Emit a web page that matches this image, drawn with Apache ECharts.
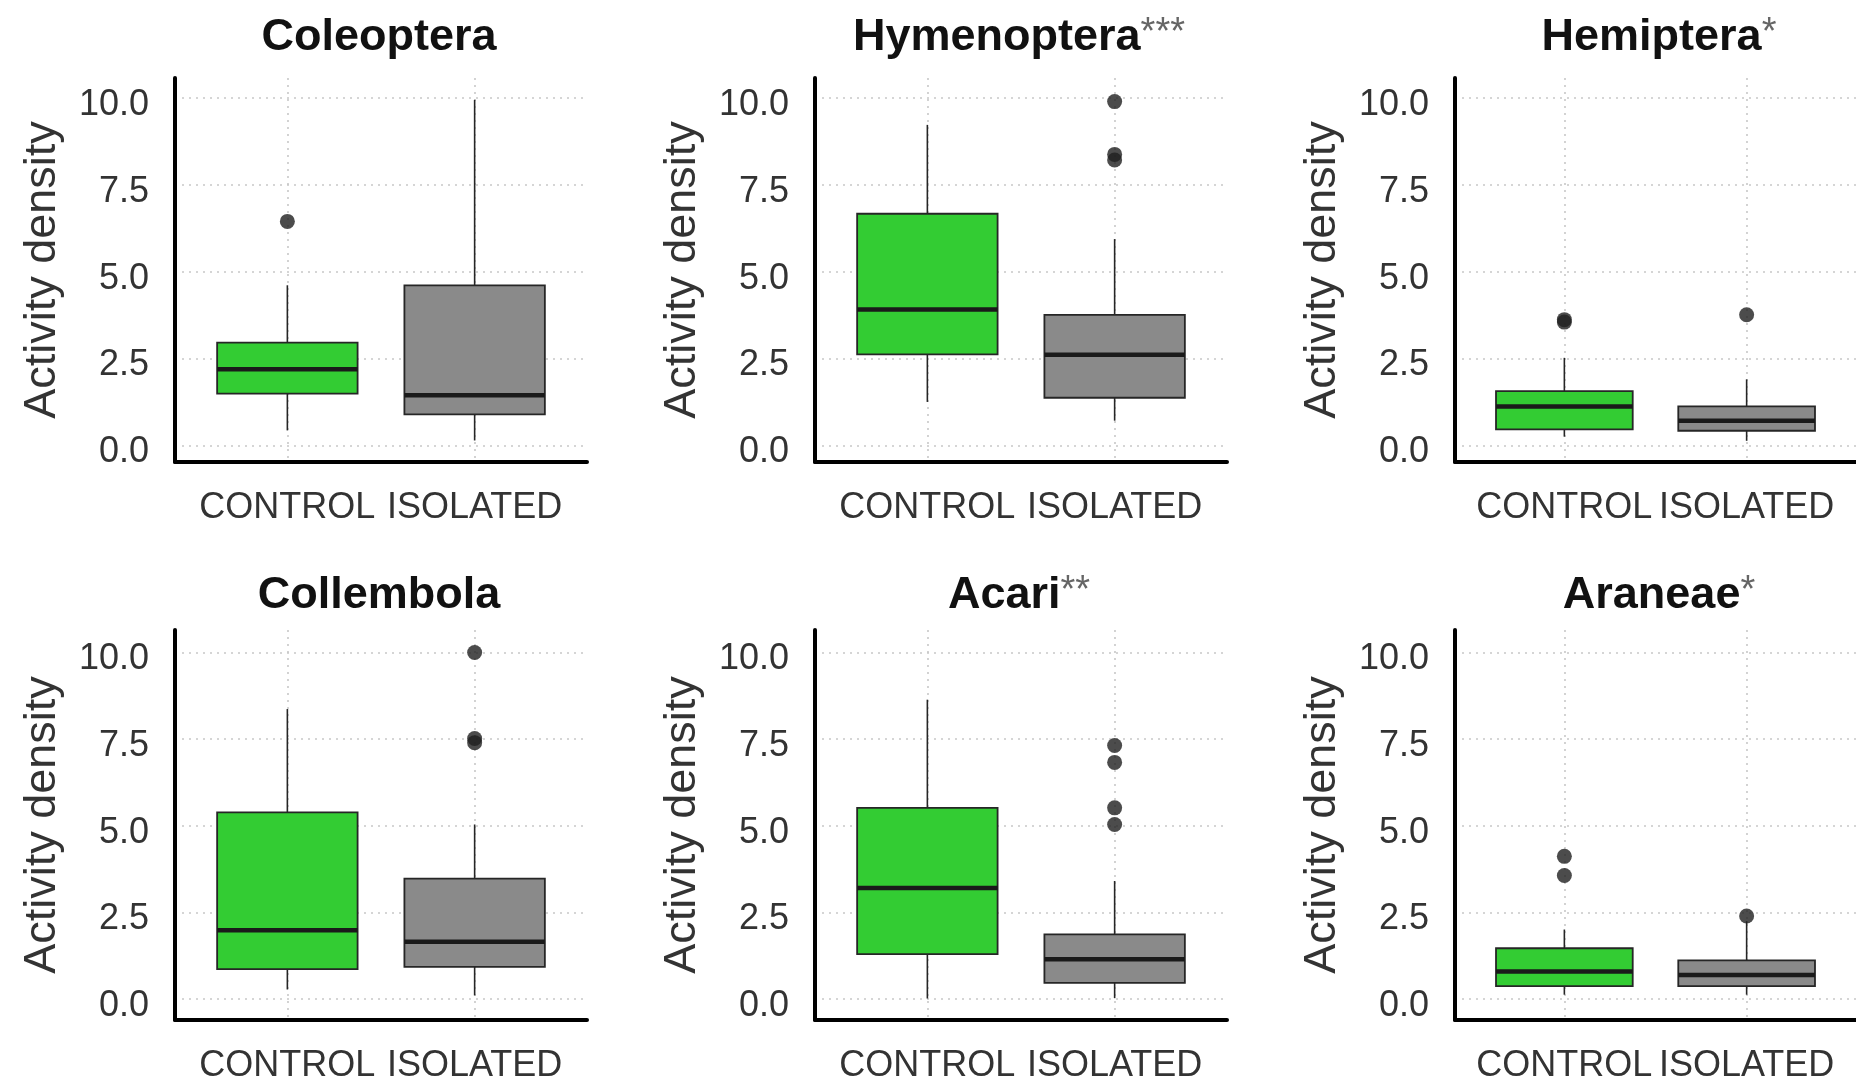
<!DOCTYPE html>
<html>
<head>
<meta charset="utf-8">
<title>Activity density by treatment</title>
<script src="https://cdn.jsdelivr.net/npm/echarts@6/dist/echarts.min.js"></script>
<style>
  html, body { margin: 0; padding: 0; background: #ffffff; }
  #chart { width: 1856px; height: 1084px; }
</style>
</head>
<body>
<div id="chart"></div>
<script>
// Treatments on the x axis
const categories = ['CONTROL', 'ISOLATED'];

// Taxa, one panel each, with significance stars
const taxa = ['Coleoptera', 'Hymenoptera', 'Hemiptera', 'Collembola', 'Acari', 'Araneae'];
const stars = ['', '***', '*', '', '**', '*'];

// Box statistics per taxon: [lower whisker, Q1, median, Q3, upper whisker]
const controlStats = [
  [0.43, 1.49, 2.19, 2.96, 4.61],
  [1.25, 2.62, 3.91, 6.67, 9.23],
  [0.25, 0.46, 1.12, 1.56, 2.52],
  [0.28, 0.87, 1.99, 5.39, 8.37],
  [0.02, 1.30, 3.21, 5.52, 8.64],
  [0.13, 0.38, 0.80, 1.47, 2.01]
];
const isolatedStats = [
  [0.14, 0.89, 1.44, 4.61, 9.95],
  [0.71, 1.37, 2.61, 3.76, 5.94],
  [0.13, 0.42, 0.71, 1.12, 1.90],
  [0.11, 0.93, 1.66, 3.48, 5.04],
  [0.03, 0.47, 1.15, 1.87, 3.41],
  [0.13, 0.38, 0.70, 1.12, 2.25]
];

// Outlying observations per taxon
const controlOutliers = [[6.45], [], [3.62, 3.55], [], [], [4.12, 3.57]];
const isolatedOutliers = [[], [9.9, 8.38, 8.22], [3.76], [10.0, 7.52, 7.40], [7.32, 6.83, 5.52, 5.04], [2.40]];

// Y tick values
const yTicks = [0, 2.5, 5, 7.5, 10];

const FONT = '"Liberation Sans", Arial, Helvetica, sans-serif';
const GREEN = '#33cc33';
const GREY = '#8a8a8a';

const colLeft = [175, 815, 1455];
const panelWidth = 412;
const rowTop = [78, 630];
const rowHeight = [384, 399];
const rowMin = [-0.48, -0.60];
const rowMax = [10.58, 10.65];
const titleTop = [10, 568];

function renderBox(params, api) {
  const x = api.value(0);
  const pLow = api.coord([x, api.value(1)]);
  const pQ1 = api.coord([x, api.value(2)]);
  const pMed = api.coord([x, api.value(3)]);
  const pQ3 = api.coord([x, api.value(4)]);
  const pHigh = api.coord([x, api.value(5)]);
  const halfW = api.size([0.75, 0])[0] / 2;
  const edge = '#262626';
  return {
    type: 'group',
    children: [
      { type: 'line', shape: { x1: pHigh[0], y1: pHigh[1], x2: pQ3[0], y2: pQ3[1] },
        style: { stroke: edge, lineWidth: 1.6 } },
      { type: 'line', shape: { x1: pQ1[0], y1: pQ1[1], x2: pLow[0], y2: pLow[1] },
        style: { stroke: edge, lineWidth: 1.6 } },
      { type: 'rect', shape: { x: pQ3[0] - halfW, y: pQ3[1], width: 2 * halfW, height: pQ1[1] - pQ3[1] },
        style: { fill: api.visual('color'), stroke: edge, lineWidth: 1.8 } },
      { type: 'line', shape: { x1: pMed[0] - halfW, y1: pMed[1], x2: pMed[0] + halfW, y2: pMed[1] },
        style: { stroke: '#1a1a1a', lineWidth: 4.5 } }
    ]
  };
}

const grids = [], xAxes = [], yAxes = [], series = [], titles = [];

taxa.forEach(function (name, i) {
  const row = Math.floor(i / 3), col = i % 3;
  grids.push({ left: colLeft[col], top: rowTop[row], width: panelWidth, height: rowHeight[row], containLabel: false });

  titles.push({
    text: '{t|' + name + '}' + (stars[i] ? '{s|' + stars[i] + '}' : ''),
    left: colLeft[col] + panelWidth / 2 - 7,
    top: titleTop[row],
    textAlign: 'center',
    textStyle: {
      rich: {
        t: { fontFamily: FONT, fontWeight: 'bold', fontSize: 45, color: '#111111' },
        s: { fontFamily: FONT, fontWeight: 'normal', fontSize: 38, color: '#666666', verticalAlign: 'top' }
      }
    }
  });

  xAxes.push({
    type: 'value', gridIndex: i, min: 0.4, max: 2.6,
    axisLine: { show: true, onZero: false, lineStyle: { color: '#000000', width: 4 } },
    axisTick: { show: false, customValues: [1, 2] },
    axisLabel: {
      customValues: [1, 2],
      formatter: function (v) { return categories[Math.round(v) - 1]; },
      fontFamily: FONT, fontSize: 36, color: '#333333', margin: 28
    },
    splitLine: { show: true, lineStyle: { color: '#c8c8c8', width: 1.6, type: [2, 5] } }
  });

  yAxes.push({
    type: 'value', gridIndex: i, min: rowMin[row], max: rowMax[row],
    name: 'Activity density', nameLocation: 'middle', nameGap: 110,
    nameTextStyle: { fontFamily: FONT, fontSize: 45, color: '#333333' },
    axisLine: { show: true, onZero: false, lineStyle: { color: '#000000', width: 4 } },
    axisTick: { show: false, customValues: yTicks },
    axisLabel: {
      customValues: yTicks,
      formatter: function (v) { return v.toFixed(1); },
      fontFamily: FONT, fontSize: 36, color: '#333333', margin: 26,
      verticalAlign: 'top', lineHeight: 14
    },
    splitLine: { show: true, lineStyle: { color: '#c8c8c8', width: 1.6, type: [2, 5] } }
  });

  series.push({
    type: 'custom', xAxisIndex: i, yAxisIndex: i,
    renderItem: renderBox,
    encode: { x: 0, y: [1, 2, 3, 4, 5] },
    data: [
      { value: [1].concat(controlStats[i]), itemStyle: { color: GREEN } },
      { value: [2].concat(isolatedStats[i]), itemStyle: { color: GREY } }
    ],
    z: 2
  });

  series.push({
    type: 'scatter', xAxisIndex: i, yAxisIndex: i,
    symbol: 'circle', symbolSize: 15,
    itemStyle: { color: '#1f1f1f' },
    data: controlOutliers[i].map(function (v) { return [1, v]; })
      .concat(isolatedOutliers[i].map(function (v) { return [2, v]; })),
    z: 3
  });
});

const chart = echarts.init(document.getElementById('chart'), null, { renderer: 'canvas' });
chart.setOption({
  animation: false,
  backgroundColor: '#ffffff',
  title: titles,
  grid: grids,
  xAxis: xAxes,
  yAxis: yAxes,
  series: series
});
</script>
</body>
</html>
